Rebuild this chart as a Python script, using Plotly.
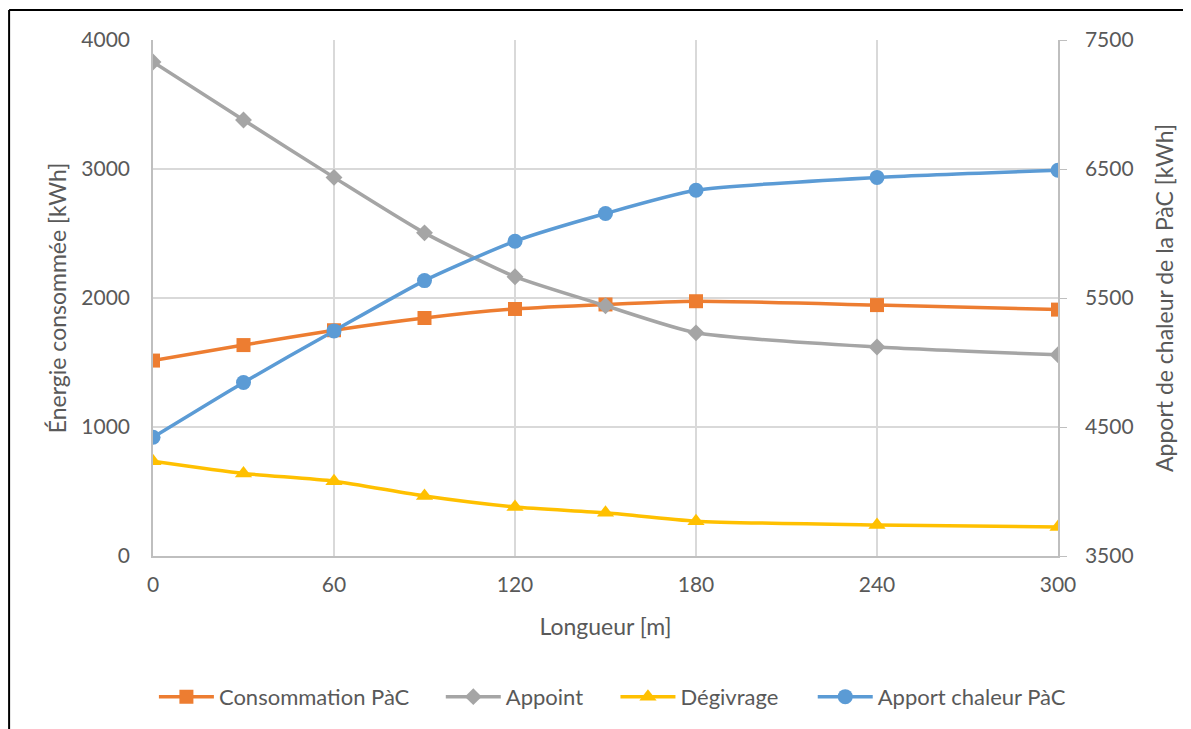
import plotly.graph_objects as go

# data
longueur = [0, 30, 60, 90, 120, 150, 180, 240, 300]
consommation_pac = [1515, 1635, 1750, 1845, 1915, 1950, 1975, 1945, 1910]
appoint = [3830, 3380, 2935, 2505, 2165, 1940, 1730, 1620, 1560]
degivrage = [735, 640, 580, 465, 380, 335, 270, 240, 225]
apport_chaleur_pac = [4420, 4845, 5245, 5635, 5940, 6155, 6335, 6435, 6490]

FONT = "Lato"
TXT = "#595959"

fig = go.Figure()

def add_series(y, name, color, symbol, size, legend, axis="y"):
    fig.add_trace(go.Scatter(
        x=longueur, y=y, name=name, yaxis=axis, legend=legend,
        mode="lines+markers",
        line=dict(color=color, width=3.5, shape="spline", smoothing=0.6),
        marker=dict(color=color, symbol=symbol, size=size),
    ))

#one legend per series so each entry can sit where it is in the reference
add_series(consommation_pac, "Consommation PàC", "#ED7D31", "square", 14, "legend")
add_series(appoint, "Appoint", "#A5A5A5", "diamond", 13, "legend2")
add_series(degivrage, "Dégivrage", "#FFC000", "triangle-up", 15, "legend3")
add_series(apport_chaleur_pac, "Apport chaleur PàC", "#5B9BD5", "circle", 15, "legend4", axis="y2")

def leg(x):
    return dict(orientation="h", x=x, xanchor="left", y=-0.273, yanchor="middle",
                font=dict(size=22, color=TXT), itemwidth=55, bgcolor="rgba(0,0,0,0)")

# the page body has an 8px margin, so the figure is a bit smaller than the window
fig.update_layout(
    width=1183, height=721,
    margin=dict(l=145, r=133, t=32, b=173, autoexpand=False),
    paper_bgcolor="white", plot_bgcolor="white",
    font=dict(family=FONT, color=TXT, size=21),
    showlegend=True,
    legend=leg(0.001), legend2=leg(0.318), legend3=leg(0.511), legend4=leg(0.729),
    xaxis=dict(
        range=[0, 300], tickvals=[0, 60, 120, 180, 240, 300],
        showgrid=True, gridcolor="#D9D9D9", gridwidth=1.5,
        showline=True, linecolor="#BFBFBF", linewidth=1.5,
        zeroline=False, ticks="", ticklabelstandoff=9,
        title=dict(text="Longueur [m]", standoff=24, font=dict(size=23)),
        tickfont=dict(size=21),
    ),
    yaxis=dict(
        range=[0, 4000], dtick=1000,
        showgrid=True, gridcolor="#D9D9D9", gridwidth=1.5,
        showline=True, linecolor="#BFBFBF", linewidth=1.5,
        zeroline=False, ticks="", ticklabelstandoff=17,
        title=dict(text="Énergie consommée [kWh]", standoff=8, font=dict(size=23)),
        tickfont=dict(size=21),
    ),
    yaxis2=dict(
        range=[3500, 7500], tick0=3500, dtick=1000, overlaying="y", side="right",
        showgrid=False, showline=True, linecolor="#BFBFBF", linewidth=1.5,
        zeroline=False, ticks="outside", ticklen=7, tickcolor="#BFBFBF",
        ticklabelstandoff=14,
        title=dict(text="Apport de chaleur de la PàC [kWh]", standoff=24, font=dict(size=23)),
        tickfont=dict(size=21),
    ),
)

# the chart frame that is cut off by the picture edge
fig.add_shape(type="line", xref="paper", yref="paper",
              x0=-0.159, x1=1.2, y0=1.058, y1=1.058, line=dict(color="black", width=2))
fig.add_shape(type="line", xref="paper", yref="paper",
              x0=-0.159, x1=-0.159, y0=1.058, y1=-0.4, line=dict(color="black", width=2))

fig.write_html("out.html")
